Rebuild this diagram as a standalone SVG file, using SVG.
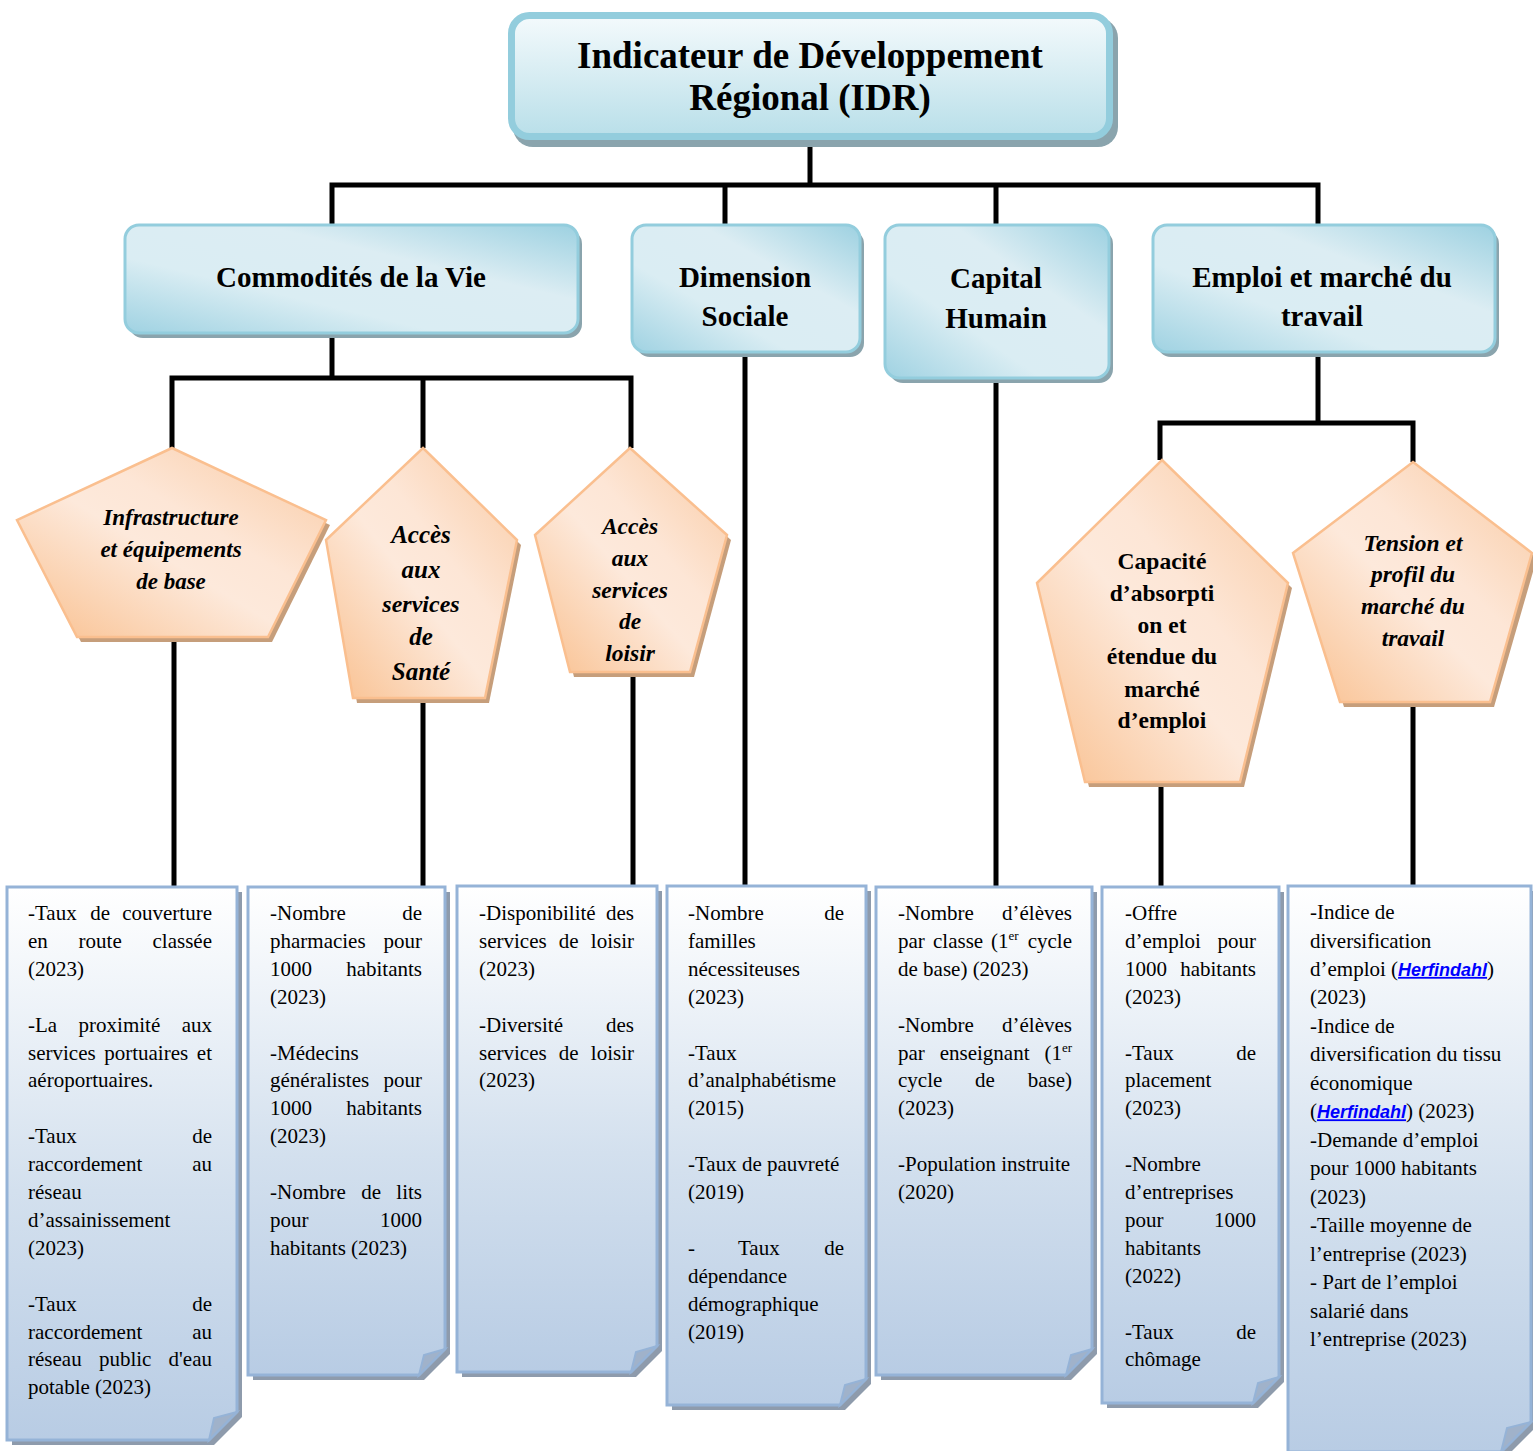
<svg xmlns="http://www.w3.org/2000/svg" width="1533" height="1451" viewBox="0 0 1533 1451">
  <defs>
    <linearGradient id="gTop" x1="0" y1="0" x2="0" y2="1">
      <stop offset="0" stop-color="#f4fafc"/>
      <stop offset="1" stop-color="#b9dfe9"/>
    </linearGradient>
    <linearGradient id="gL2" x1="0" y1="1" x2="1" y2="0">
      <stop offset="0" stop-color="#9fd2e2"/>
      <stop offset="0.35" stop-color="#daedf3"/>
      <stop offset="0.65" stop-color="#dcedf3"/>
      <stop offset="1" stop-color="#9dd1e1"/>
    </linearGradient>
    <linearGradient id="gPent" x1="0" y1="1" x2="1" y2="0">
      <stop offset="0" stop-color="#f9bf8d"/>
      <stop offset="0.45" stop-color="#fde9db"/>
      <stop offset="0.6" stop-color="#fde6d6"/>
      <stop offset="1" stop-color="#f9c9a1"/>
    </linearGradient>
    <linearGradient id="gDoc" x1="0" y1="0" x2="0" y2="1">
      <stop offset="0" stop-color="#ffffff"/>
      <stop offset="0.55" stop-color="#d3e0ee"/>
      <stop offset="1" stop-color="#b8cce4"/>
    </linearGradient>
    <style>
      .topbox{fill:url(#gTop);stroke:#93cddd;stroke-width:7}
      .box{fill:url(#gL2);stroke:#93cddd;stroke-width:3}
      .boxsh{fill:#8aa4ad}
      .pent{fill:url(#gPent);stroke:#fabf8f;stroke-width:2.5;stroke-linejoin:miter}
      .pentsh{fill:#c69e7b}
      .doc{fill:url(#gDoc);stroke:#95b3d7;stroke-width:3;stroke-linejoin:miter}
      .docsh{fill:#8e9bac}
      .flap{fill:#a0b2ca;stroke:#95b3d7;stroke-width:2}
      .link{fill:none;stroke:#000;stroke-width:5;stroke-linejoin:miter}
      .hd{font-family:"Liberation Serif","Times New Roman",serif;font-weight:bold;text-anchor:middle;fill:#000}
      .pi{font-family:"Liberation Serif","Times New Roman",serif;font-weight:bold;font-style:italic;text-anchor:middle;fill:#000}
      .pb{font-family:"Liberation Serif","Times New Roman",serif;font-weight:bold;text-anchor:middle;fill:#000}
      .t{font-family:"Liberation Serif","Times New Roman",serif;font-size:21px;fill:#000}
      .e{text-anchor:end}
      .hf{font-family:"Liberation Sans",Arial,sans-serif;font-weight:bold;font-style:italic;font-size:18px;fill:#0000ff;text-decoration:underline}
    </style>
  </defs>

  <rect width="1533" height="1451" fill="#ffffff"/>

  <!-- connectors -->
  <g id="connectors">
    <path class="link" d="M810,140 V185"/>
    <path class="link" d="M332,225 V185 H1318 V225"/>
    <path class="link" d="M725,185 V225 M996,185 V225"/>
    <path class="link" d="M332,333 V378"/>
    <path class="link" d="M172,448 V378 H631 V448"/>
    <path class="link" d="M423,378 V448"/>
    <path class="link" d="M1318,352 V423"/>
    <path class="link" d="M1160,460 V423 H1413 V462"/>
    <path class="link" d="M174,636 V888"/>
    <path class="link" d="M423,696 V888"/>
    <path class="link" d="M633,670 V887"/>
    <path class="link" d="M745,350 V887"/>
    <path class="link" d="M996,376 V888"/>
    <path class="link" d="M1161,780 V888"/>
    <path class="link" d="M1413,700 V887"/>
  </g>

  <!-- root -->
  <g id="idr">
    <rect class="boxsh" x="513" y="18" width="605" height="129" rx="20"/>
    <rect class="topbox" x="511.5" y="15.5" width="598" height="121" rx="18"/>
    <text class="hd" x="810" y="68" font-size="37">Indicateur de Développement</text>
    <text class="hd" x="810" y="110" font-size="37">Régional (IDR)</text>
  </g>

  <!-- dimensions -->
  <g id="commodites">
    <rect class="boxsh" x="129" y="230" width="453" height="108" rx="14"/>
    <rect class="box" x="125" y="225" width="453" height="108" rx="14"/>
    <text class="hd" x="351" y="287" font-size="29">Commodités de la Vie</text>
  </g>
  <g id="dimension-sociale">
    <rect class="boxsh" x="636" y="230" width="228" height="127" rx="14"/>
    <rect class="box" x="632" y="225" width="228" height="127" rx="14"/>
    <text class="hd" x="745" y="287" font-size="29">Dimension</text>
    <text class="hd" x="745" y="326" font-size="29">Sociale</text>
  </g>
  <g id="capital-humain">
    <rect class="boxsh" x="889" y="230" width="224" height="153" rx="14"/>
    <rect class="box" x="885" y="225" width="224" height="153" rx="14"/>
    <text class="hd" x="996" y="288" font-size="29">Capital</text>
    <text class="hd" x="996" y="328" font-size="29">Humain</text>
  </g>
  <g id="emploi">
    <rect class="boxsh" x="1157" y="230" width="342" height="127" rx="14"/>
    <rect class="box" x="1153" y="225" width="342" height="127" rx="14"/>
    <text class="hd" x="1322" y="287" font-size="29">Emploi et marché du</text>
    <text class="hd" x="1322" y="326" font-size="29">travail</text>
  </g>

  <!-- sub-dimensions -->
  <g id="infrastructure">
    <polygon class="pentsh" points="176,453 330,525 272,642 81,642 21,525"/>
    <polygon class="pent" points="172,448 326,520 268,637 77,637 17,520"/>
    <text class="pi" x="171" y="525" font-size="23">Infrastructure</text>
    <text class="pi" x="171" y="557" font-size="23">et équipements</text>
    <text class="pi" x="171" y="589" font-size="23">de base</text>
  </g>
  <g id="sante">
    <polygon class="pentsh" points="427,453 521,545 489,703 357,703 330,545"/>
    <polygon class="pent" points="423,448 517,540 485,698 353,698 326,540"/>
    <text class="pi" x="421" y="543" font-size="25">Accès</text>
    <text class="pi" x="421" y="578" font-size="25">aux</text>
    <text class="pi" x="421" y="612" font-size="24">services</text>
    <text class="pi" x="421" y="645" font-size="25">de</text>
    <text class="pi" x="421" y="680" font-size="25">Santé</text>
  </g>
  <g id="loisir">
    <polygon class="pentsh" points="634,453 731,540 694,677 574,677 539,540"/>
    <polygon class="pent" points="630,448 727,535 690,672 570,672 535,535"/>
    <text class="pi" x="630" y="534" font-size="23.5">Accès</text>
    <text class="pi" x="630" y="566" font-size="23.5">aux</text>
    <text class="pi" x="630" y="598" font-size="23.5">services</text>
    <text class="pi" x="630" y="629" font-size="23.5">de</text>
    <text class="pi" x="630" y="661" font-size="23.5">loisir</text>
  </g>
  <g id="capacite">
    <polygon class="pentsh" points="1166,465 1292,588 1244,787 1089,787 1041,588"/>
    <polygon class="pent" points="1162,460 1288,583 1240,782 1085,782 1037,583"/>
    <text class="pb" x="1162" y="569" font-size="23.5">Capacité</text>
    <text class="pb" x="1162" y="601" font-size="23.5">d’absorpti</text>
    <text class="pb" x="1162" y="633" font-size="23.5">on et</text>
    <text class="pb" x="1162" y="664" font-size="23.5">étendue du</text>
    <text class="pb" x="1162" y="697" font-size="23.5">marché</text>
    <text class="pb" x="1162" y="728" font-size="23.5">d’emploi</text>
  </g>
  <g id="tension">
    <polygon class="pentsh" points="1417,467 1537,558 1494,707 1344,707 1297,558"/>
    <polygon class="pent" points="1413,462 1532,553 1490,702 1340,702 1293,553"/>
    <text class="pi" x="1413" y="551" font-size="23.5">Tension et</text>
    <text class="pi" x="1413" y="582" font-size="23.5">profil du</text>
    <text class="pi" x="1413" y="614" font-size="23.5">marché du</text>
    <text class="pi" x="1413" y="646" font-size="23.5">travail</text>
  </g>

  <!-- indicator sheets -->
  <g id="ind-infrastructure">
    <path class="docsh" d="M12,892 H242 V1417 L214,1445 H12 Z"/>
    <path class="doc" d="M7,887 H237 V1412 L209,1440 H7 Z"/>
    <path class="flap" d="M209,1440 L214,1418 L237,1412 Z"/>
    <text class="t" x="28" y="920">-Taux</text><text class="t" x="90.3" y="920">de</text><text class="t e" x="212" y="920">couverture</text>
    <text class="t" x="28" y="948">en</text><text class="t" x="78.6" y="948">route</text><text class="t e" x="212" y="948">classée</text>
    <text class="t" x="28" y="976">(2023)</text>
    <text class="t" x="28" y="1031.6">-La</text><text class="t" x="78.6" y="1031.6">proximité</text><text class="t e" x="212" y="1031.6">aux</text>
    <text class="t" x="28" y="1059.5">services</text><text class="t" x="104.2" y="1059.5">portuaires</text><text class="t e" x="212" y="1059.5">et</text>
    <text class="t" x="28" y="1087.4">aéroportuaires.</text>
    <text class="t" x="28" y="1143.2">-Taux</text><text class="t e" x="212" y="1143.2">de</text>
    <text class="t" x="28" y="1171.1">raccordement</text><text class="t e" x="212" y="1171.1">au</text>
    <text class="t" x="28" y="1199">réseau</text>
    <text class="t" x="28" y="1226.9">d’assainissement</text>
    <text class="t" x="28" y="1254.8">(2023)</text>
    <text class="t" x="28" y="1310.6">-Taux</text><text class="t e" x="212" y="1310.6">de</text>
    <text class="t" x="28" y="1338.5">raccordement</text><text class="t e" x="212" y="1338.5">au</text>
    <text class="t" x="28" y="1366.4">réseau</text><text class="t" x="98.9" y="1366.4">public</text><text class="t e" x="212" y="1366.4">d'eau</text>
    <text class="t" x="28" y="1394.3">potable (2023)</text>
  </g>

  <g id="ind-sante">
    <path class="docsh" d="M253,892 H450 V1354 L424,1380 H253 Z"/>
    <path class="doc" d="M248,887 H445 V1349 L419,1375 H248 Z"/>
    <path class="flap" d="M419,1375 L424,1355 L445,1349 Z"/>
    <text class="t" x="270" y="920">-Nombre</text><text class="t e" x="422" y="920">de</text>
    <text class="t" x="270" y="948">pharmacies</text><text class="t e" x="422" y="948">pour</text>
    <text class="t" x="270" y="976">1000</text><text class="t e" x="422" y="976">habitants</text>
    <text class="t" x="270" y="1003.7">(2023)</text>
    <text class="t" x="270" y="1059.5">-Médecins</text>
    <text class="t" x="270" y="1087.4">généralistes</text><text class="t e" x="422" y="1087.4">pour</text>
    <text class="t" x="270" y="1115.3">1000</text><text class="t e" x="422" y="1115.3">habitants</text>
    <text class="t" x="270" y="1143.2">(2023)</text>
    <text class="t" x="270" y="1199">-Nombre</text><text class="t" x="361.2" y="1199">de</text><text class="t e" x="422" y="1199">lits</text>
    <text class="t" x="270" y="1226.9">pour</text><text class="t e" x="422" y="1226.9">1000</text>
    <text class="t" x="270" y="1254.8">habitants (2023)</text>
  </g>

  <g id="ind-loisir">
    <path class="docsh" d="M462,891 H662 V1351 L636,1377 H462 Z"/>
    <path class="doc" d="M457,886 H657 V1346 L631,1372 H457 Z"/>
    <path class="flap" d="M631,1372 L636,1352 L657,1346 Z"/>
    <text class="t" x="479" y="920">-Disponibilité</text><text class="t e" x="634" y="920">des</text>
    <text class="t" x="479" y="948">services</text><text class="t" x="558.8" y="948">de</text><text class="t e" x="634" y="948">loisir</text>
    <text class="t" x="479" y="976">(2023)</text>
    <text class="t" x="479" y="1031.6">-Diversité</text><text class="t e" x="634" y="1031.6">des</text>
    <text class="t" x="479" y="1059.5">services</text><text class="t" x="558.8" y="1059.5">de</text><text class="t e" x="634" y="1059.5">loisir</text>
    <text class="t" x="479" y="1087.4">(2023)</text>
  </g>

  <g id="ind-sociale">
    <path class="docsh" d="M672,891 H871 V1384 L845,1410 H672 Z"/>
    <path class="doc" d="M667,886 H866 V1379 L840,1405 H667 Z"/>
    <path class="flap" d="M840,1405 L845,1385 L866,1379 Z"/>
    <text class="t" x="688" y="920">-Nombre</text><text class="t e" x="844" y="920">de</text>
    <text class="t" x="688" y="948">familles</text>
    <text class="t" x="688" y="976">nécessiteuses</text>
    <text class="t" x="688" y="1003.7">(2023)</text>
    <text class="t" x="688" y="1059.5">-Taux</text>
    <text class="t" x="688" y="1087.4">d’analphabétisme</text>
    <text class="t" x="688" y="1115.3">(2015)</text>
    <text class="t" x="688" y="1171.1">-Taux de pauvreté</text>
    <text class="t" x="688" y="1199">(2019)</text>
    <text class="t" x="688" y="1254.8">-</text><text class="t" x="738" y="1254.8">Taux</text><text class="t e" x="844" y="1254.8">de</text>
    <text class="t" x="688" y="1282.7">dépendance</text>
    <text class="t" x="688" y="1310.6">démographique</text>
    <text class="t" x="688" y="1338.5">(2019)</text>
  </g>

  <g id="ind-capital">
    <path class="docsh" d="M881,892 H1097 V1354 L1071,1380 H881 Z"/>
    <path class="doc" d="M876,887 H1092 V1349 L1066,1375 H876 Z"/>
    <path class="flap" d="M1066,1375 L1071,1355 L1092,1349 Z"/>
    <text class="t" x="898" y="920">-Nombre</text><text class="t e" x="1072" y="920">d’élèves</text>
    <text class="t" x="898" y="948">par</text><text class="t" x="933" y="948">classe</text><text class="t" x="991" y="948">(1<tspan font-size="13" dy="-8">er</tspan></text><text class="t e" x="1072" y="948">cycle</text>
    <text class="t" x="898" y="976">de base) (2023)</text>
    <text class="t" x="898" y="1031.6">-Nombre</text><text class="t e" x="1072" y="1031.6">d’élèves</text>
    <text class="t" x="898" y="1059.5">par</text><text class="t" x="939.7" y="1059.5">enseignant</text><text class="t e" x="1072" y="1059.5">(1<tspan font-size="13" dy="-8">er</tspan></text>
    <text class="t" x="898" y="1087.4">cycle</text><text class="t" x="975" y="1087.4">de</text><text class="t e" x="1072" y="1087.4">base)</text>
    <text class="t" x="898" y="1115.3">(2023)</text>
    <text class="t" x="898" y="1171.1">-Population instruite</text>
    <text class="t" x="898" y="1199">(2020)</text>
  </g>

  <g id="ind-capacite">
    <path class="docsh" d="M1107,892 H1284 V1382 L1258,1408 H1107 Z"/>
    <path class="doc" d="M1102,887 H1279 V1377 L1253,1403 H1102 Z"/>
    <path class="flap" d="M1253,1403 L1258,1383 L1279,1377 Z"/>
    <text class="t" x="1125" y="920">-Offre</text>
    <text class="t" x="1125" y="948">d’emploi</text><text class="t e" x="1256" y="948">pour</text>
    <text class="t" x="1125" y="976">1000</text><text class="t e" x="1256" y="976">habitants</text>
    <text class="t" x="1125" y="1003.7">(2023)</text>
    <text class="t" x="1125" y="1059.5">-Taux</text><text class="t e" x="1256" y="1059.5">de</text>
    <text class="t" x="1125" y="1087.4">placement</text>
    <text class="t" x="1125" y="1115.3">(2023)</text>
    <text class="t" x="1125" y="1171.1">-Nombre</text>
    <text class="t" x="1125" y="1199">d’entreprises</text>
    <text class="t" x="1125" y="1226.9">pour</text><text class="t e" x="1256" y="1226.9">1000</text>
    <text class="t" x="1125" y="1254.8">habitants</text>
    <text class="t" x="1125" y="1282.7">(2022)</text>
    <text class="t" x="1125" y="1338.5">-Taux</text><text class="t e" x="1256" y="1338.5">de</text>
    <text class="t" x="1125" y="1366.4">chômage</text>
  </g>

  <g id="ind-tension">
    <path class="docsh" d="M1293,891 H1536 V1427 L1506,1457 H1293 Z"/>
    <path class="doc" d="M1288,886 H1531 V1422 L1501,1452 H1288 Z"/>
    <path class="flap" d="M1501,1452 L1507,1428 L1531,1422 Z"/>
    <text class="t" x="1310" y="919">-Indice de</text>
    <text class="t" x="1310" y="947.5">diversification</text>
    <text class="t" x="1310" y="975.9">d’emploi (<tspan class="hf">Herfindahl</tspan>)</text>
    <text class="t" x="1310" y="1004.4">(2023)</text>
    <text class="t" x="1310" y="1032.9">-Indice de</text>
    <text class="t" x="1310" y="1061.4">diversification du tissu</text>
    <text class="t" x="1310" y="1089.8">économique</text>
    <text class="t" x="1310" y="1118.3">(<tspan class="hf">Herfindahl</tspan>) (2023)</text>
    <text class="t" x="1310" y="1146.8">-Demande d’emploi</text>
    <text class="t" x="1310" y="1175.2">pour 1000 habitants</text>
    <text class="t" x="1310" y="1203.7">(2023)</text>
    <text class="t" x="1310" y="1232.2">-Taille moyenne de</text>
    <text class="t" x="1310" y="1260.6">l’entreprise (2023)</text>
    <text class="t" x="1310" y="1289.1">- Part de l’emploi</text>
    <text class="t" x="1310" y="1317.6">salarié dans</text>
    <text class="t" x="1310" y="1346">l’entreprise (2023)</text>
  </g>
</svg>
